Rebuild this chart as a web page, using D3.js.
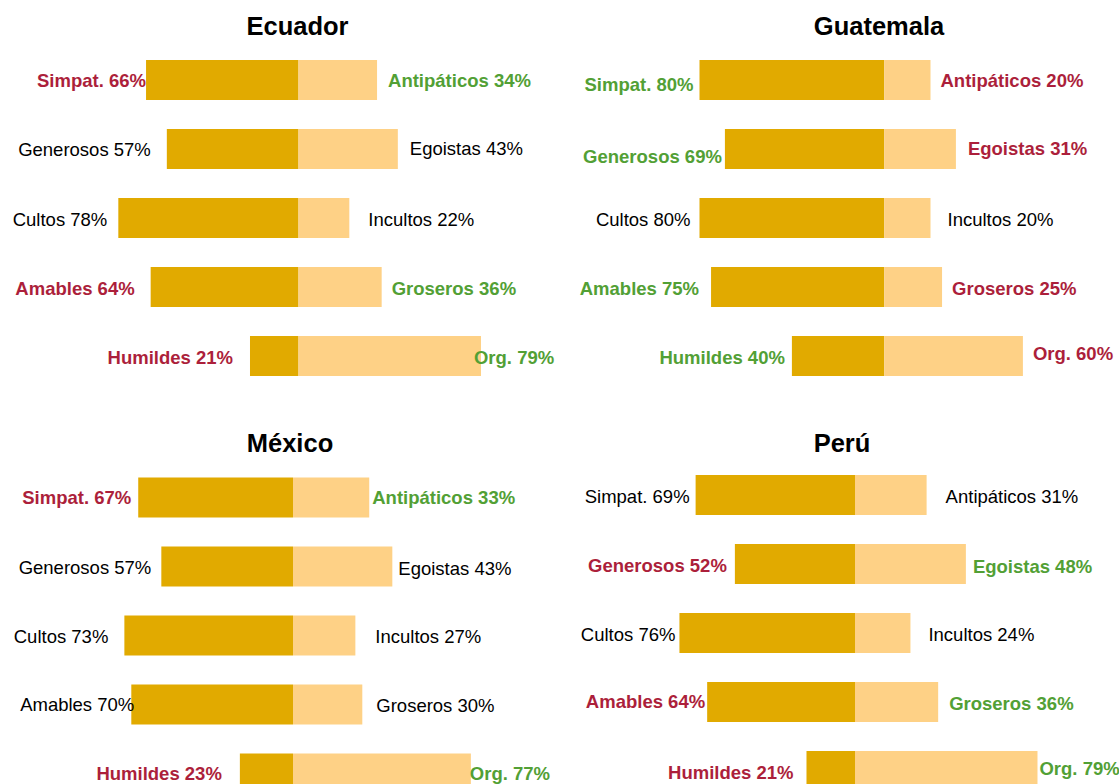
<!DOCTYPE html>
<html>
<head>
<meta charset="utf-8">
<script src="https://cdn.jsdelivr.net/npm/d3@7"></script>
<style>
  html, body { margin: 0; padding: 0; background: #ffffff; }
  svg { display: block; font-family: "Liberation Sans", Arial, sans-serif; }
</style>
</head>
<body>
<svg id="chart" width="1119" height="784"></svg>
<script>
// ---------- DATA ----------
const countries = ["Ecuador", "Guatemala", "México", "Perú"];
const leftTraits = ["Simpat.", "Generosos", "Cultos", "Amables", "Humildes"];
const rightTraits = ["Antipáticos", "Egoistas", "Incultos", "Groseros", "Org."];

const ecuadorLeft = [66, 57, 78, 64, 21];
const ecuadorRight = [34, 43, 22, 36, 79];
const guatemalaLeft = [80, 69, 80, 75, 40];
const guatemalaRight = [20, 31, 20, 25, 60];
const mexicoLeft = [67, 57, 73, 70, 23];
const mexicoRight = [33, 43, 27, 30, 77];
const peruLeft = [69, 52, 76, 64, 21];
const peruRight = [31, 48, 24, 36, 79];

// label emphasis: r = red bold, g = green bold, n = plain
const ecuadorLeftTone = ["r", "n", "n", "r", "r"];
const ecuadorRightTone = ["g", "n", "n", "g", "g"];
const guatemalaLeftTone = ["g", "g", "n", "g", "g"];
const guatemalaRightTone = ["r", "r", "n", "r", "r"];
const mexicoLeftTone = ["r", "n", "n", "n", "r"];
const mexicoRightTone = ["g", "n", "n", "n", "g"];
const peruLeftTone = ["n", "r", "n", "r", "r"];
const peruRightTone = ["n", "g", "n", "g", "g"];

// ---------- LAYOUT ----------
const pxPerPct = 2.31;
const panels = [
  { name: countries[0], L: ecuadorLeft, R: ecuadorRight, LT: ecuadorLeftTone, RT: ecuadorRightTone,
    cx: 298.5, top: 60, titleX: 297.5, titleY: 35,
    lgap: [0, 16, 11, 16, 17], rgap: [11, 12, 19, 10, -7],
    ldy: [0, 0, 1, 1, 1], rdy: [0, -1, 1, 1, 1] },
  { name: countries[1], L: guatemalaLeft, R: guatemalaRight, LT: guatemalaLeftTone, RT: guatemalaRightTone,
    cx: 884.3, top: 60, titleX: 879, titleY: 35,
    lgap: [6, 3, 9, 12, 7], rgap: [10, 12, 17, 10, 10],
    ldy: [4, 7, 1, 1, 1], rdy: [0, -1, 1, 1, -3] },
  { name: countries[2], L: mexicoLeft, R: mexicoRight, LT: mexicoLeftTone, RT: mexicoRightTone,
    cx: 293, top: 477.5, titleX: 290, titleY: 452,
    lgap: [7, 10, 16, -3, 18], rgap: [3, 6, 20, 14, -1],
    ldy: [0, 1, 1, 0, 0], rdy: [0, 2, 1, 1, 0] },
  { name: countries[3], L: peruLeft, R: peruRight, LT: peruLeftTone, RT: peruRightTone,
    cx: 855, top: 475, titleX: 842, titleY: 452,
    lgap: [6, 8, 4, 2, 13], rgap: [19, 7, 18, 11, 2],
    ldy: [1, 1, 1, -1, 1], rdy: [1, 2, 1, 1, -3] }
];

const darkColor = "#E1AA00";
const lightColor = "#FED186";
const toneColor = { r: "#AC1F3B", g: "#52A035", n: "#000000" };
const toneWeight = { r: "bold", g: "bold", n: "normal" };
const labelSize = 18.5;

const svg = d3.select("#chart");

panels.forEach(p => {
  const x = d3.scaleLinear()
    .domain([-100, 100])
    .range([p.cx - 100 * pxPerPct, p.cx + 100 * pxPerPct]);
  const y = d3.scaleBand()
    .domain(d3.range(leftTraits.length))
    .range([p.top, p.top + 4 * 69 + 40])
    .paddingInner(29 / 69)
    .paddingOuter(0);

  const g = svg.append("g");

  g.append("text")
    .attr("x", p.titleX)
    .attr("y", p.titleY)
    .attr("text-anchor", "middle")
    .attr("font-size", 25.5)
    .attr("font-weight", "bold")
    .attr("fill", "#000")
    .text(p.name);

  const rows = d3.range(leftTraits.length);

  g.selectAll("rect.left").data(rows).join("rect")
    .attr("class", "left")
    .attr("x", i => x(-p.L[i]))
    .attr("y", i => y(i))
    .attr("width", i => x(0) - x(-p.L[i]))
    .attr("height", y.bandwidth())
    .attr("fill", darkColor);

  g.selectAll("rect.right").data(rows).join("rect")
    .attr("class", "right")
    .attr("x", x(0))
    .attr("y", i => y(i))
    .attr("width", i => x(p.R[i]) - x(0))
    .attr("height", y.bandwidth())
    .attr("fill", lightColor);

  g.selectAll("text.ll").data(rows).join("text")
    .attr("class", "ll")
    .attr("x", i => x(-p.L[i]) - p.lgap[i])
    .attr("y", i => y(i) + y.bandwidth() / 2 + p.ldy[i])
    .attr("dy", "0.36em")
    .attr("text-anchor", "end")
    .attr("font-size", labelSize)
    .attr("font-weight", i => toneWeight[p.LT[i]])
    .attr("fill", i => toneColor[p.LT[i]])
    .text(i => `${leftTraits[i]} ${p.L[i]}%`);

  g.selectAll("text.rl").data(rows).join("text")
    .attr("class", "rl")
    .attr("x", i => x(p.R[i]) + p.rgap[i])
    .attr("y", i => y(i) + y.bandwidth() / 2 + p.rdy[i])
    .attr("dy", "0.36em")
    .attr("text-anchor", "start")
    .attr("font-size", labelSize)
    .attr("font-weight", i => toneWeight[p.RT[i]])
    .attr("fill", i => toneColor[p.RT[i]])
    .text(i => `${rightTraits[i]} ${p.R[i]}%`);
});
</script>
</body>
</html>
